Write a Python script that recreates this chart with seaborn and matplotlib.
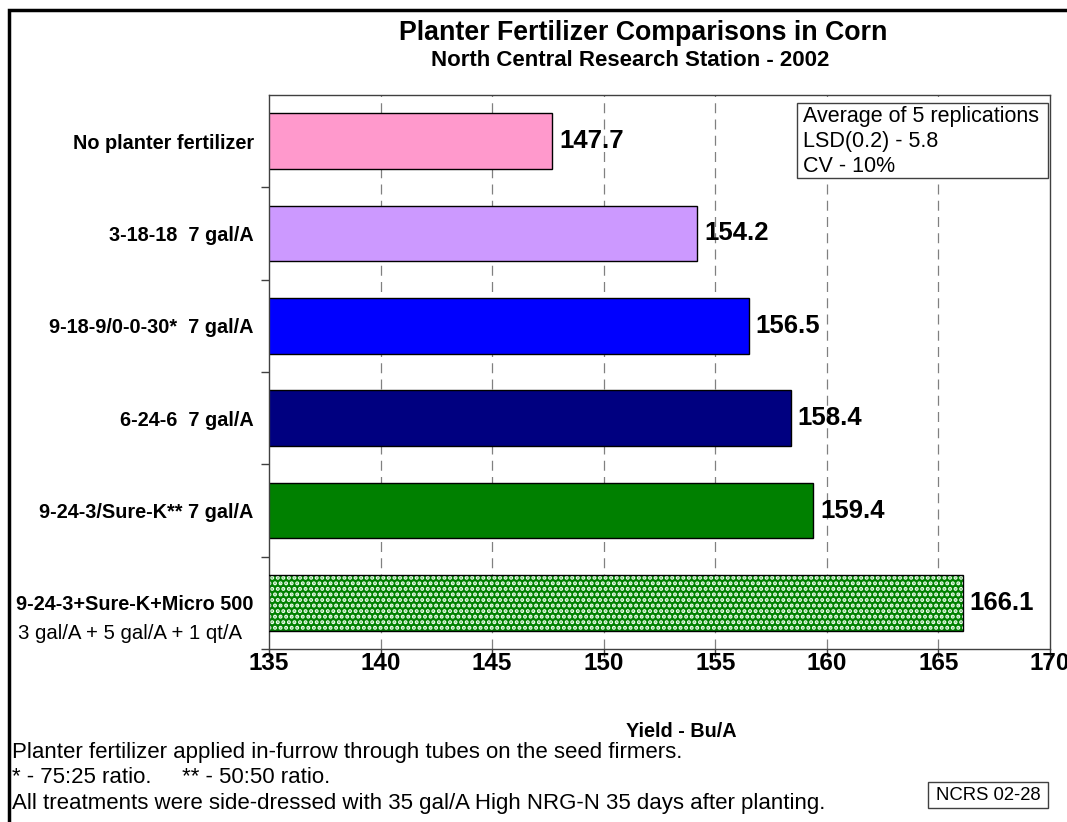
import matplotlib
matplotlib.use("Agg")
import matplotlib.pyplot as plt
import seaborn as sns
import pandas as pd
from matplotlib.patches import Rectangle

categories = ["No planter fertilizer", "3-18-18  7 gal/A", "9-18-9/0-0-30*  7 gal/A",
              "6-24-6  7 gal/A", "9-24-3/Sure-K** 7 gal/A", "9-24-3+Sure-K+Micro 500"]
last_sub = "3 gal/A + 5 gal/A + 1 qt/A"
yields = [147.7, 154.2, 156.5, 158.4, 159.4, 166.1]
colors = ["#FF99CC", "#CC99FF", "#0000FF", "#000080", "#008000", "#008000"]
xticks = [135, 140, 145, 150, 155, 160, 165, 170]
box_lines = ["Average of 5 replications", "LSD(0.2) - 5.8", "CV - 10%"]
notes = ["Planter fertilizer applied in-furrow through tubes on the seed firmers.",
         "* - 75:25 ratio.     ** - 50:50 ratio.",
         "All treatments were side-dressed with 35 gal/A High NRG-N 35 days after planting."]

sns.set_theme(style="white")
plt.rcParams['font.family'] = ['Liberation Sans', 'DejaVu Sans']
plt.rcParams['text.color'] = 'black'
plt.rcParams['xtick.color'] = 'black'
plt.rcParams['ytick.color'] = 'black'
plt.rcParams['xtick.labelcolor'] = 'black'
plt.rcParams['ytick.labelcolor'] = 'black'
plt.rcParams['hatch.linewidth'] = 2.0

df = pd.DataFrame({"cat": categories, "y": yields})

fig = plt.figure(figsize=(10.67, 8.22), dpi=100)
ax = fig.add_axes([269/1067, 1-649/822, (1050-269)/1067, (649-95)/822])

sns.barplot(data=df, y="cat", x="y", hue="cat", palette=colors, orient="h",
            width=0.6, edgecolor="black", linewidth=1.0, legend=False, ax=ax,
            saturation=1)

# patterned last bar
last = ax.patches[-1]
last.set_hatch("...")
last.set_edgecolor("#F0FFF0")
last.set_linewidth(0)
ax.add_patch(Rectangle(last.get_xy(), last.get_width(), last.get_height(),
                       fill=False, edgecolor="black", linewidth=1.0, zorder=3))

ax.set_xlim(135, 170)
ax.set_ylim(5.5, -0.5)
ax.set_xticks(xticks)
ax.set_xticklabels([str(t) for t in xticks], fontsize=17.5, fontweight="bold")
ax.tick_params(axis="x", direction="out", length=6, width=1, color="#404040", pad=-3.5, bottom=True)
ax.set_yticks(range(len(categories)))
ax.set_yticklabels(categories, fontsize=14.3, fontweight="bold")
ax.tick_params(axis="y", length=0, pad=11)
ax.set_yticks([i + 0.5 for i in range(len(categories))], minor=True)
ax.tick_params(axis="y", which="minor", direction="out", length=6, width=1, color="#404040", left=True)
ax.set_ylabel("")
ax.set_xlabel("")

for t in xticks[1:-1]:
    ax.axvline(t, color="#808080", linestyle=(0, (8, 5)), linewidth=0.9, zorder=0)
for s in ax.spines.values():
    s.set_color("#404040")
    s.set_linewidth(1.0)
ax.set_axisbelow(True)

for i, v in enumerate(yields):
    ax.text(v + 0.3, i, f"{v:.1f}", va="center", ha="left", fontsize=18.5, fontweight="bold", color="black")

# second line of last label
fig.text(18/1067, 1-633/822, last_sub, fontsize=14.7, ha="left", va="center")

# titles
fig.text(643/1067, 1-33/822, "Planter Fertilizer Comparisons in Corn", fontsize=19.3,
         fontweight="bold", ha="center", va="center")
fig.text(630/1067, 1-61/822, "North Central Research Station - 2002", fontsize=16,
         fontweight="bold", ha="center", va="center")
fig.text(681/1067, 1-731/822, "Yield - Bu/A", fontsize=14.3, fontweight="bold", ha="center", va="center")

# info box
fig.patches.append(Rectangle((797/1067, 1-178/822), (1048-797)/1067, (178-103)/822,
                             transform=fig.transFigure, fill=True, facecolor="white",
                             edgecolor="#404040", linewidth=1.0, zorder=5))
for k, line in enumerate(box_lines):
    fig.text(803/1067, 1-(116+25*k)/822, line, fontsize=15.5, ha="left", va="center", zorder=6)

# footnotes
for k, line in enumerate(notes):
    fig.text(12/1067, 1-(752+25.5*k)/822, line, fontsize=16, ha="left", va="center")

# NCRS box
fig.patches.append(Rectangle((928/1067, 1-808/822), (1048-928)/1067, (808-782)/822,
                             transform=fig.transFigure, fill=True, facecolor="white",
                             edgecolor="#404040", linewidth=1.0, zorder=5))
fig.text(988/1067, 1-795/822, "NCRS 02-28", fontsize=13.3, ha="center", va="center", zorder=6)

# outer frame (cut at right/bottom)
fig.patches.append(Rectangle((9/1067, -0.05), 1.2, 1-10/822+0.05, transform=fig.transFigure,
                             fill=False, edgecolor="black", linewidth=2.5, zorder=10))

fig.savefig("out.png", dpi=100)
